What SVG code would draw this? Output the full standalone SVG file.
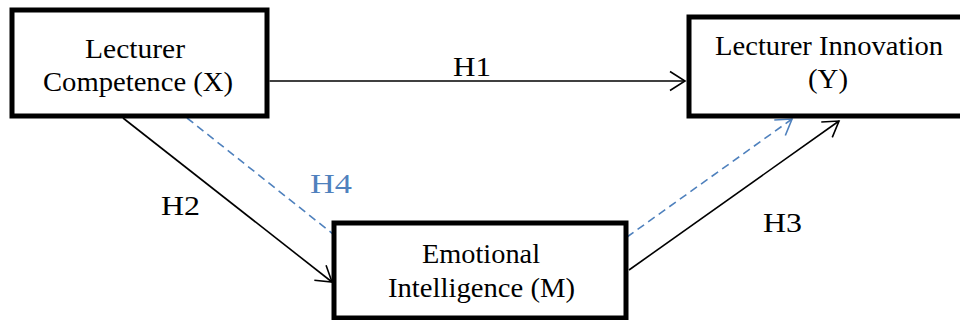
<svg xmlns="http://www.w3.org/2000/svg" width="960" height="320" viewBox="0 0 960 320">
  <style>
    .box { fill: #ffffff; stroke: #000000; stroke-width: 5; }
    .lbl { font-family: "Liberation Serif", "Times New Roman", serif; font-size: 27px; fill: #000000; }
    .blue { fill: #4F81BD; }
    .link { fill: none; stroke: #000000; stroke-width: 1.6; }
    .dash { fill: none; stroke: #4F81BD; stroke-width: 1.6; stroke-dasharray: 8 5; }
  </style>
  <defs>
    <marker id="arrowBlack" markerUnits="userSpaceOnUse" markerWidth="18" markerHeight="22" viewBox="0 0 18 22" refX="16" refY="11" orient="auto">
      <path d="M1,1.5 L16,11 L1,20.5" fill="none" stroke="#000000" stroke-width="1.6"/>
    </marker>
    <marker id="arrowBlue" markerUnits="userSpaceOnUse" markerWidth="18" markerHeight="22" viewBox="0 0 18 22" refX="16" refY="11" orient="auto">
      <path d="M1,1.5 L16,11 L1,20.5" fill="none" stroke="#4F81BD" stroke-width="1.6"/>
    </marker>
  </defs>

  <g id="connectors">
    <line id="h1" class="link" x1="269.5" y1="81" x2="685" y2="81" marker-end="url(#arrowBlack)"/>
    <line id="h2" class="link" x1="123" y1="118" x2="332" y2="282" marker-end="url(#arrowBlack)"/>
    <line id="h3" class="link" x1="629" y1="270" x2="839" y2="121" marker-end="url(#arrowBlack)"/>
    <line id="h4a" class="dash" x1="187" y1="118" x2="333" y2="234"/>
    <line id="h4b" class="dash" x1="627" y1="237" x2="792" y2="119" marker-end="url(#arrowBlue)"/>
    <text class="lbl" x="453" y="76" textLength="38" lengthAdjust="spacingAndGlyphs">H1</text>
    <text class="lbl" x="161" y="215" textLength="39" lengthAdjust="spacingAndGlyphs">H2</text>
    <text class="lbl" x="763" y="232" textLength="39" lengthAdjust="spacingAndGlyphs">H3</text>
    <text class="lbl blue" x="310" y="193" textLength="42" lengthAdjust="spacingAndGlyphs">H4</text>
  </g>

  <g id="node-x">
    <rect class="box" x="12" y="10" width="255" height="106"/>
    <text class="lbl" x="85" y="58" textLength="100" lengthAdjust="spacingAndGlyphs">Lecturer</text>
    <text class="lbl" x="43" y="91" textLength="190" lengthAdjust="spacingAndGlyphs">Competence (X)</text>
  </g>

  <g id="node-y">
    <rect class="box" x="689" y="17" width="280" height="99"/>
    <text class="lbl" x="715" y="55" textLength="228" lengthAdjust="spacingAndGlyphs">Lecturer Innovation</text>
    <text class="lbl" x="808" y="88" textLength="40" lengthAdjust="spacingAndGlyphs">(Y)</text>
  </g>

  <g id="node-m">
    <rect class="box" x="334" y="223" width="292" height="95"/>
    <text class="lbl" x="422" y="263" textLength="118" lengthAdjust="spacingAndGlyphs">Emotional</text>
    <text class="lbl" x="388" y="297" textLength="187" lengthAdjust="spacingAndGlyphs">Intelligence (M)</text>
  </g>
</svg>
